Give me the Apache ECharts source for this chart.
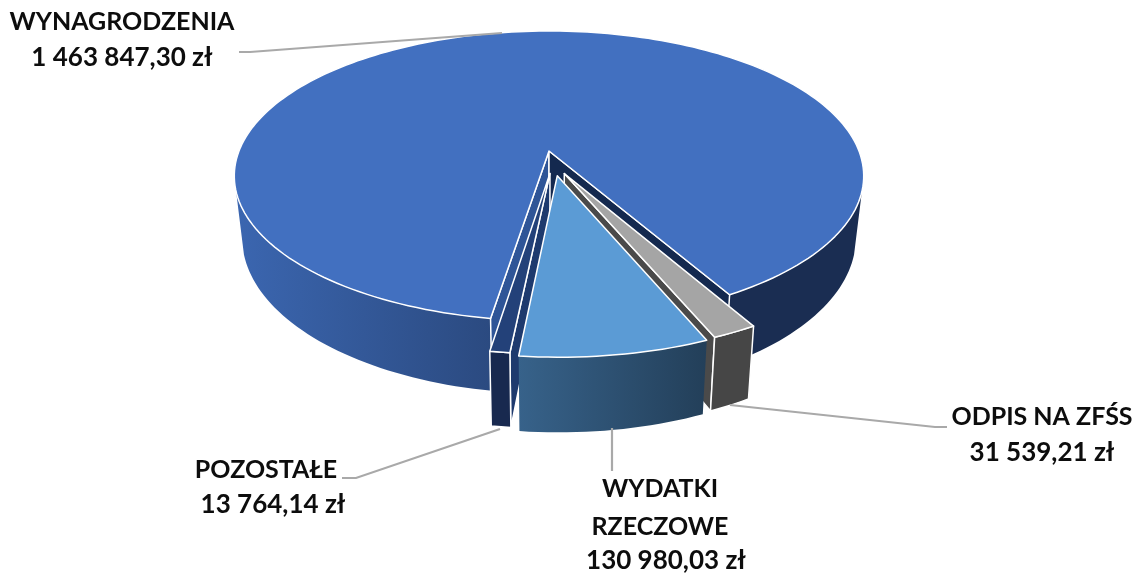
<!DOCTYPE html>
<html><head><meta charset="utf-8">
<style>html,body{margin:0;padding:0;background:#fff}#c{width:1139px;height:577px}</style>
<script src="https://cdn.jsdelivr.net/npm/echarts@6/dist/echarts.min.js"></script>
</head><body><div id="c"></div>
<script>
// Data, in clockwise pie order
const categories = ['WYNAGRODZENIA', 'ODPIS NA ZFŚS', 'WYDATKI\nRZECZOWE', 'POZOSTAŁE'];
const amounts = [1463847.30, 31539.21, 130980.03, 13764.14];

// Projection of the tilted disc (styling/geometry constants)
const view = {cx: 549, cy: 151, R: 310, kR: 140.7, p: 0.1724, depth: 60, shrink: 0.025, startAngle: -9, silhouette: 74};
// Explosion offset of each slice on the disc
const explode = [[0, 0], [0.048, 0.156], [0.026, 0.17], [0.003, 0.155]];
const paintOrder = [1, 2, 4, 3];
const grad = (a, b) => ({type: 'linear', x: 0, y: 0, x2: 1, y2: 0, colorStops: [{offset: 0, color: a}, {offset: 1, color: b}]});
const looks = [
  {top: '#4270C0', cutA: '#2F5597', cutB: '#14294F'},
  {top: '#A5A5A5', side: '#464646', cutB: '#4A4A4A', edge: true},
  {top: '#5B9BD5', side: grad('#37628A', '#233F59')},
  {top: '#234179', side: '#18294F', cutA: '#1E3A6E', edge: true}
];
const leaders = [
  [[239, 52], [250, 52], [502, 33]],
  [[730, 405], [935, 427], [947, 427]],
  [[612, 428], [612, 471]],
  [[500, 429], [356, 478], [342, 478]]
];
const labelLines = [
  [[122, 22], [122, 58]],
  [[1042, 417], [1042, 453]],
  [[660, 489], [660, 527], [666, 561]],
  [[266, 470], [273, 505]]
];
const nameFont = '700 25px Lato', valueFont = '700 26px Lato';

const total = amounts.reduce((a, b) => a + b, 0);
const fmt = v => {
  const [i, d] = v.toFixed(2).split('.');
  return i.replace(/\B(?=(\d{3})+$)/g, ' ') + ',' + d + ' zł';
};
function pt(a, r, off, z) {
  const X = off[0] + r * Math.sin(a), Y = off[1] + r * Math.cos(a);
  const s = 1 / (1 - view.p * Y);
  return [view.cx + view.R * X * s * (1 - view.shrink * z),
          view.cy + (view.kR * Y + view.depth * z) * s];
}
const rad = d => d * Math.PI / 180;
function arc(a0, a1, off, z) {
  const n = Math.max(2, Math.ceil(Math.abs(a1 - a0) / 1.5)), out = [];
  for (let i = 0; i <= n; i++) out.push(pt(rad(a0 + (a1 - a0) * i / n), 1, off, z));
  return out;
}
function poly(points, fill, z2, stroke, w) {
  return {type: 'polygon', z2, shape: {points}, silent: true,
    style: {fill, stroke: stroke || null, lineWidth: w || 0, lineJoin: 'round'}};
}
function cut(a, off, fill, z2) {
  return poly([pt(0, 0, off, 0), pt(rad(a), 1, off, 0), pt(rad(a), 1, off, 1), pt(0, 0, off, 1)], fill, z2, '#fff', 1.5);
}

const option = {
  animation: false,
  backgroundColor: '#fff',
  series: [{
    type: 'custom',
    coordinateSystem: 'none',
    silent: true,
    data: amounts.map(v => [v]),
    renderItem(params, api) {
      const i = params.dataIndex, v = api.value(0);
      let before = 0;
      for (let k = 0; k < i; k++) before += amounts[k];
      const a0 = view.startAngle - before / total * 360;
      const a1 = a0 - v / total * 360;
      const off = explode[i], look = looks[i], base = paintOrder[i] * 10;
      const kids = [];
      if (i === 0) {
        // Outer wall of the big slice: left part with gradient, right part dark
        const sil = view.silhouette, aR = a1 + 360;
        kids.push(poly(arc(a0, -sil, off, 0).concat(arc(-sil, a0, off, 1)), grad('#3B66B0', '#2B4A80'), base));
        kids.push(poly(arc(aR, sil, off, 0).concat(arc(sil, aR, off, 1)), '#1A2D52', base));
        kids.push(cut(a0, off, look.cutA, base + 1));
        kids.push(cut(aR, off, look.cutB, base + 1));
      } else {
        kids.push(poly(arc(a0, a1, off, 0).concat(arc(a1, a0, off, 1)), look.side, base + 2, look.edge ? '#fff' : null, 1.5));
        if (look.cutA) kids.push(cut(a0, off, look.cutA, base + 1));
        if (look.cutB) kids.push(cut(a1, off, look.cutB, base + 1));
      }
      const top = [pt(0, 0, off, 0)].concat(arc(a0, a1, off, 0));
      kids.push(poly(top, look.top, base + 3, '#fff', 1.5));
      kids.push({type: 'polyline', z2: 100, silent: true, shape: {points: leaders[i]},
        style: {fill: null, stroke: '#A9A9A9', lineWidth: 2.2}});
      const names = categories[i].split('\n');
      names.concat(fmt(v)).forEach((t, j) => kids.push({type: 'text', z2: 101, silent: true,
        x: labelLines[i][j][0], y: labelLines[i][j][1],
        style: {text: t, font: j < names.length ? nameFont : valueFont, fill: '#0D0D0D', align: 'center', verticalAlign: 'middle'}}));
      return {type: 'group', children: kids};
    }
  }]
};
echarts.init(document.getElementById('c')).setOption(option);
</script></body></html>
